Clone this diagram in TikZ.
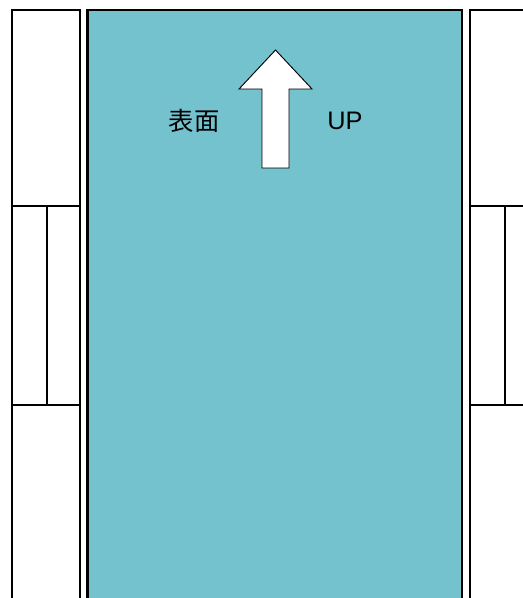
\documentclass[tikz,border=0pt]{standalone}
\usepackage{fontspec}
\setmainfont{Liberation Sans}
\newfontfamily\jpfont{Noto Sans CJK JP}
\usetikzlibrary{positioning}
\definecolor{panelteal}{RGB}{117,194,207}

\begin{document}
\begin{tikzpicture}[x=0.75pt, y=-0.75pt,
  frame/.style={draw=black, line width=1.8pt},
  panel/.style={frame, fill=panelteal},
  slot/.style={draw=black, line width=1.6pt},
  uparrow/.style={draw=black, fill=white, line width=0.7pt},
  lbl/.style={font=\fontsize{19}{22}\selectfont, inner sep=0pt},
]
  \useasboundingbox (0,0) rectangle (523,598);
  \clip (0,0) rectangle (523,598);
  % side guides
  \draw[frame] (12,10) rectangle (80,620);
  \draw[slot] (12,206) -- (80,206) (12,405) -- (80,405) (47,206) -- (47,405);
  \draw[frame] (470,10) rectangle (540,620);
  \draw[slot] (470,206) -- (540,206) (470,405) -- (540,405) (505,206) -- (505,405);
  % sheet
  \draw[panel] (87.5,10) rectangle (462,620);
  \draw[uparrow] (262,168) -- (262,89) -- (239,89) -- (275.5,50) -- (312,89)
    -- (289,89) -- (289,168) -- cycle;
  \node[lbl] (face) at (194,121) {\jpfont 表面};
  \node[lbl] (up) at (345,121) {UP};
\end{tikzpicture}
\end{document}
